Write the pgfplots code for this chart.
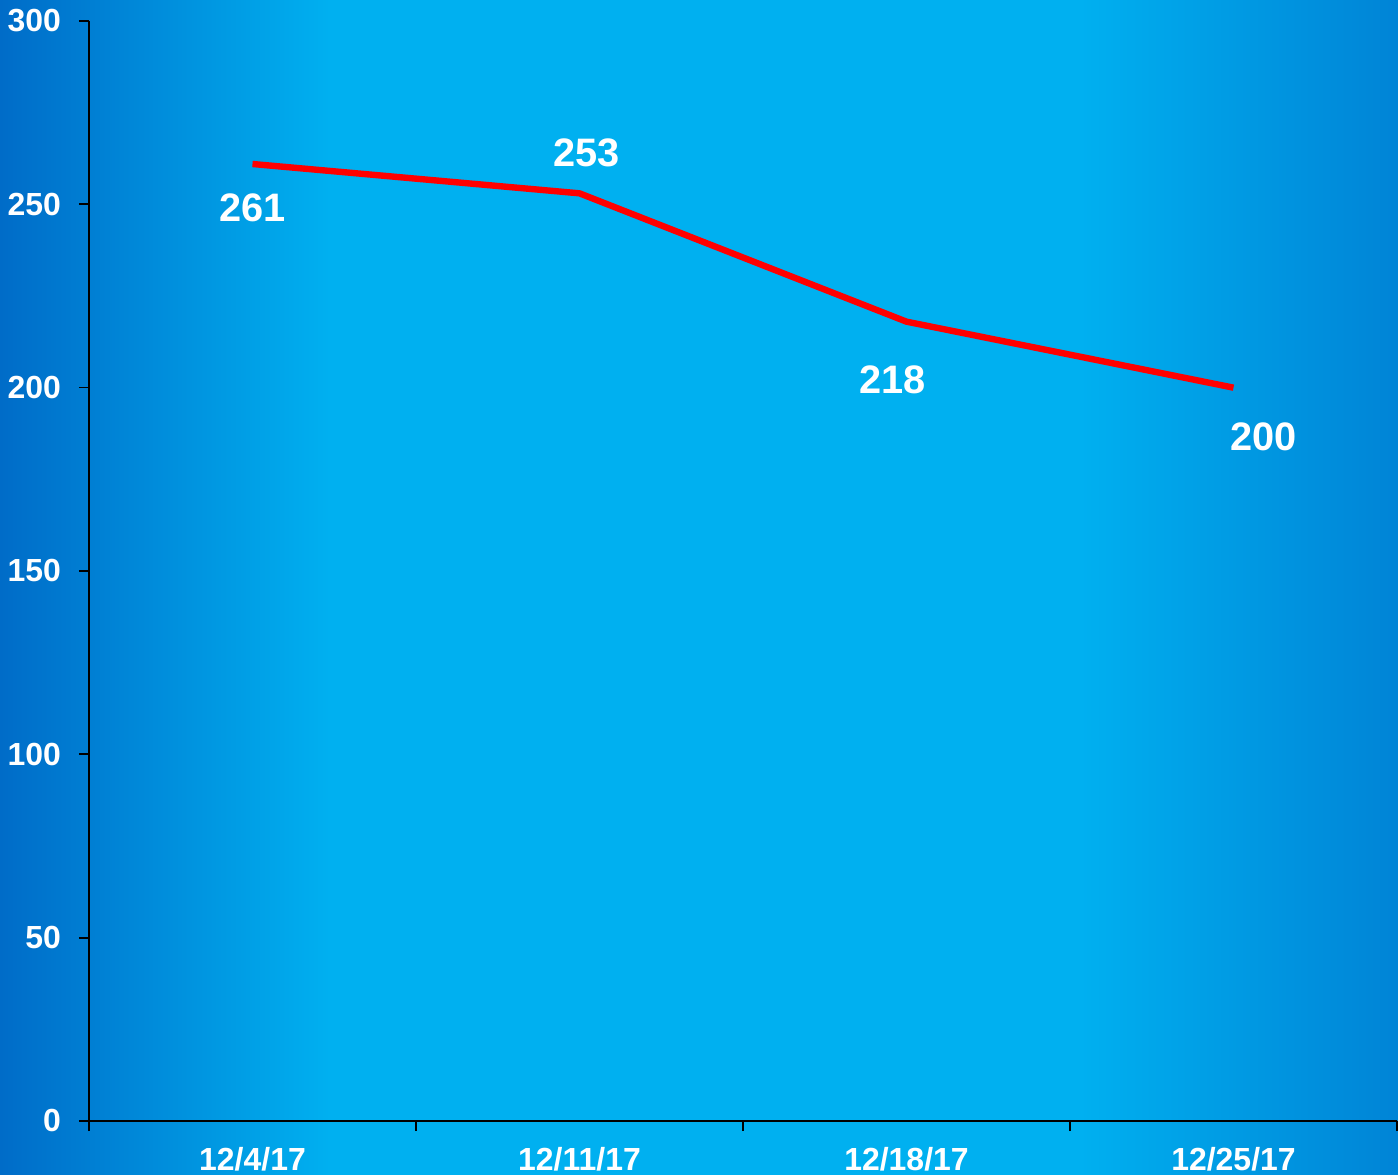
\documentclass[border=0pt]{standalone}
\usepackage{pgfplots}
\pgfplotsset{compat=1.18}
\usepackage{fontspec}
\setmainfont{Liberation Sans}
\definecolor{cA}{HTML}{006CC8}
\definecolor{cB}{HTML}{00B0F0}
\definecolor{cC}{HTML}{0084D6}
\pgfplotstableread{
x y dx dy
0 261 0 -15.8
1 253 2.5 14.4
2 218 -5 -20.9
3 200 10.8 -17.6
}\datatable
\begin{document}
\begin{tikzpicture}
\useasboundingbox (-32.04pt,-19.44pt) rectangle (471.24pt,403.56pt);
\shade[left color=cA,right color=cB] (-32.04pt,-19.44pt) rectangle (86.76pt,403.56pt);
\fill[cB] (86.7pt,-19.44pt) rectangle (356.8pt,403.56pt);
\shade[left color=cB,right color=cC] (356.76pt,-19.44pt) rectangle (471.24pt,403.56pt);
\begin{axis}[
  scale only axis, width=470.88pt, height=396pt,
  xmin=-0.5, xmax=3.5, ymin=0, ymax=300,
  ytick={0,50,...,300},
  axis x line=bottom, axis y line=left,
  axis line style={-, black, line width=0.6pt},
  tick style={black, line width=0.6pt},
  tick align=outside, major tick length=3.6pt,
  xtick={-0.5,0.5,1.5,2.5,3.5}, xticklabels={},
  extra x ticks={0,1,2,3},
  extra x tick labels={12/4/17,12/11/17,12/18/17,12/25/17},
  extra x tick style={tick style={draw=none}, xticklabel style={yshift=-2.2pt}},
  ticklabel style={font=\bfseries\fontsize{11.5}{12}\selectfont, text=white},
  yticklabel style={xshift=-3pt},
  /pgf/number format/assume math mode=true,
  clip=false,
]
\addplot[red, line width=2.3pt, line join=round, mark=none,
  nodes near coords, point meta=explicit symbolic,
  visualization depends on={\thisrow{dx} \as \dx},
  visualization depends on={\thisrow{dy} \as \dy},
  every node near coord/.append style={anchor=center, xshift=\dx pt, yshift=\dy pt,
    font=\bfseries\fontsize{14.3}{15}\selectfont, text=white}]
  table[x=x, y=y, meta=y] {\datatable};
\end{axis}
\end{tikzpicture}
\end{document}
